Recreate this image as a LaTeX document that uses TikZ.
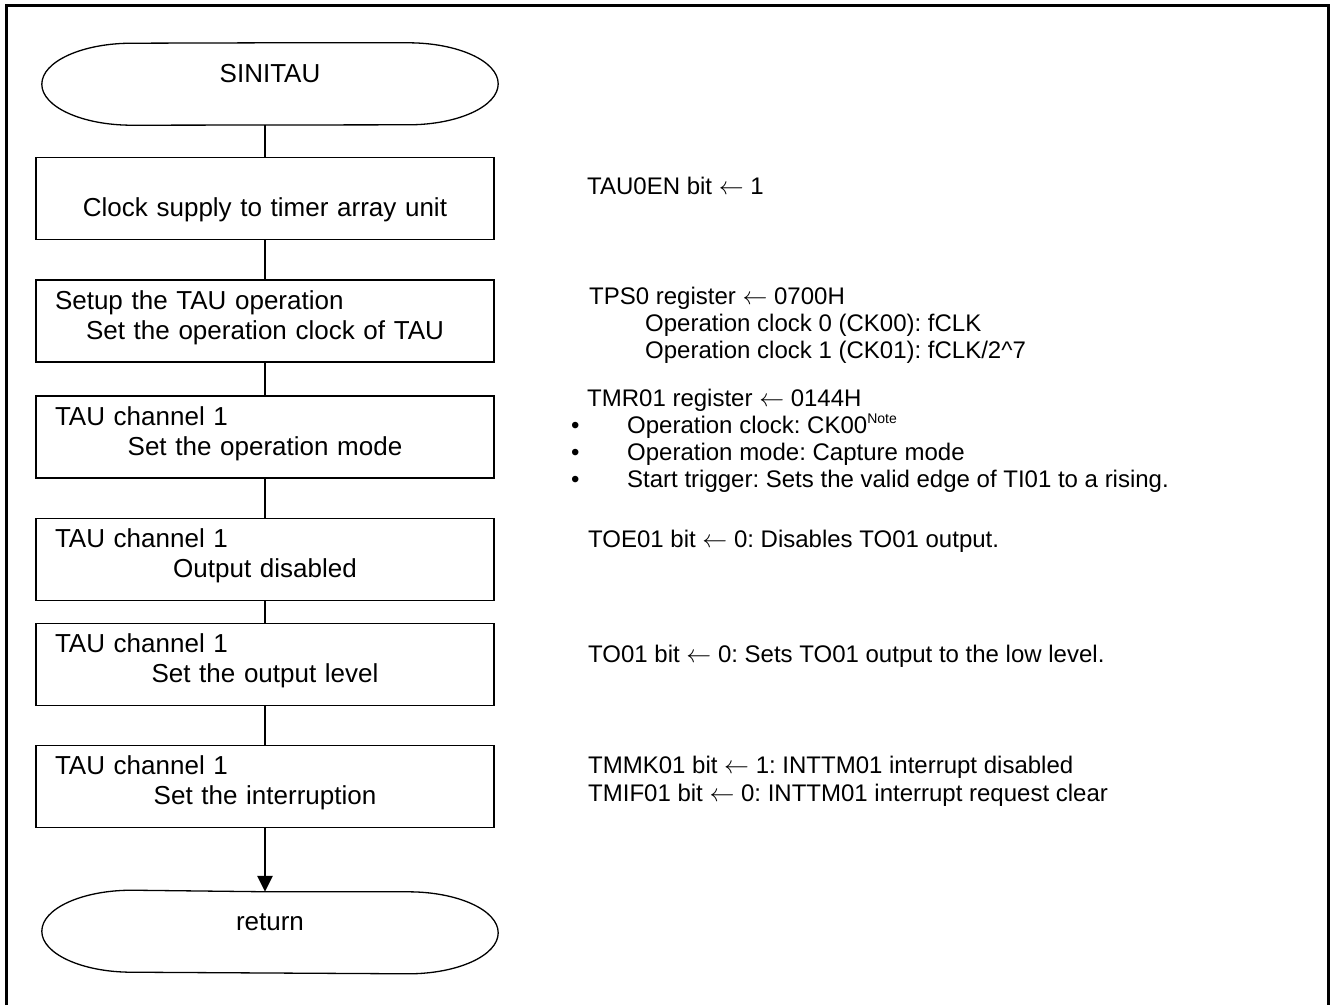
\documentclass[tikz,border=0pt]{standalone}
\usepackage{fontspec}
\setmainfont{Liberation Sans}
\usetikzlibrary{arrows.meta,positioning,calc}
\tikzset{
	proc/.style={draw, line width=1.8pt, minimum width=458pt, minimum height=82pt, text width=420pt, inner xsep=19pt, align=center, font=\fontsize{26}{30}\selectfont},
	term/.style={minimum width=456pt, minimum height=82pt, text height=19pt, text depth=23pt, font=\fontsize{26}{30}\selectfont},
	memo/.style={anchor=base west, align=left, inner sep=0pt, font=\fontsize{24}{27}\selectfont\frenchspacing},
	flow/.style={line width=2.5pt}
}
% stadium outline round a terminator node
\newcommand{\termline}[1]{\draw[line width=1.3pt, line join=round] (#1.north) -- ([xshift=-90pt]#1.north east)
	arc[start angle=90, end angle=-90, x radius=90pt, y radius=41pt] -- ([xshift=90pt]#1.south west)
	arc[start angle=270, end angle=90, x radius=90pt, y radius=41pt] -- cycle;}
% first line flush left, second line centred
\newcommand{\steptext}[2]{\hbox to 420pt{\rule{0pt}{19pt}#1\hfil}\\#2\rule[-13pt]{0pt}{0pt}}
\newcommand{\notemark}{\raisebox{10pt}{\fontsize{14}{14}\selectfont Note}}
\newcommand{\bul}{\makebox[56pt][l]{•}}
\newcommand{\setto}{$\leftarrow$}

\begin{document}
\begin{tikzpicture}[x=1pt, y=1pt]
		\useasboundingbox (0,0) rectangle (1330,-1005);
		%frame
		\draw[line width=3pt] (6,-1005) -- (6,-5) -- (1328,-5) -- (1328,-1005);
		
		%terminators
		\node[term] (start) at (270,-84) {SINITAU};
		\termline{start}
		\node[term, minimum height=80pt] (stop) at (270,-932) {return};
		\termline{stop}
		
		%steps
		\node[proc] (b1) at (265,-198.5) {\steptext{}{Clock supply to timer array unit}};
		\node[proc] (b2) at (265,-321) {\steptext{Setup the TAU operation}{Set the operation clock of TAU}};
		\node[proc] (b3) at (265,-437) {\steptext{TAU channel 1}{Set the operation mode}};
		\node[proc] (b4) at (265,-559.5) {\steptext{TAU channel 1}{Output disabled}};
		\node[proc] (b5) at (265,-664.5) {\steptext{TAU channel 1}{Set the output level}};
		\node[proc] (b6) at (265,-786.5) {\steptext{TAU channel 1}{Set the interruption}};
		
		%connectors
		\draw[flow] (b1.north |- start.south) -- (b1.north);
		\draw[flow] (b1) -- (b2);
		\draw[flow] (b2) -- (b3);
		\draw[flow] (b3) -- (b4);
		\draw[flow] (b4) -- (b5);
		\draw[flow] (b5) -- (b6);
		\draw[flow, -{Triangle[length=16pt, width=15pt]}] (b6.south) -- (b6.south |- stop.north);
		
		%memos (base = last line)
		\node[memo] (m1) at (587,-194) {TAU0EN bit \setto{} 1};
		\node[memo] (m2) at (589,-358) {TPS0 register \setto{} 0700H\\
			\hspace*{56pt}Operation clock 0 (CK00): fCLK\\
			\hspace*{56pt}Operation clock 1 (CK01): fCLK/2\textasciicircum 7};
		\node[memo] (m3) at (571,-487) {\hspace*{16pt}TMR01 register \setto{} 0144H\\
			\bul Operation clock: CK00\notemark\\
			\bul Operation mode: Capture mode\\
			\bul Start trigger: Sets the valid edge of TI01 to a rising.};
		\node[memo] (m4) at (588,-547) {TOE01 bit \setto{} 0: Disables TO01 output.};
		\node[memo] (m5) at (588,-662) {TO01 bit \setto{} 0: Sets TO01 output to the low level.};
		\node[memo, font=\fontsize{24}{28}\selectfont\frenchspacing] (m6) at (588,-801) {TMMK01 bit \setto{} 1: INTTM01 interrupt disabled\\
			TMIF01 bit \setto{} 0: INTTM01 interrupt request clear};
\end{tikzpicture}
\end{document}
